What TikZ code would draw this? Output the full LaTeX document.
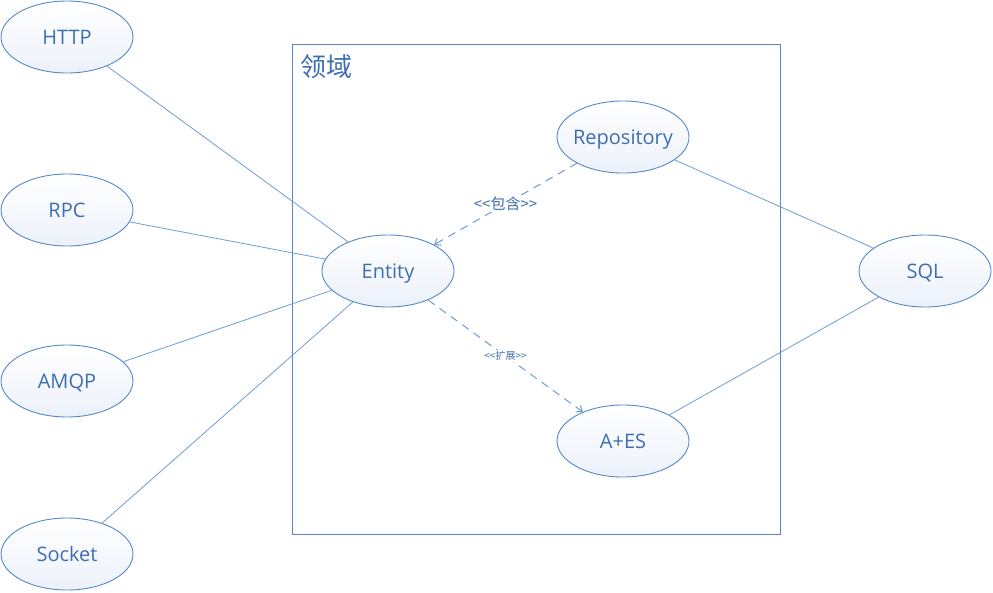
\documentclass[tikz,border=0pt]{standalone}
\usepackage{fontspec}
\setmainfont{Open Sans}
\newfontfamily\cjk{Noto Sans CJK SC}
\usetikzlibrary{shapes.geometric,arrows.meta}
\definecolor{edgeblue}{RGB}{84,136,200}
\definecolor{lineblue}{RGB}{110,156,212}
\definecolor{txtblue}{RGB}{62,110,178}
\definecolor{fillblue}{RGB}{236,241,250}
\tikzset{
  uc/.style={ellipse, draw=edgeblue, line width=0.9pt, top color=white, bottom color=fillblue,
    minimum width=132pt, minimum height=72pt, inner sep=0pt, text=txtblue,
    text height=14pt, text depth=0pt, font=\fontsize{20}{22}\selectfont},
  assoc/.style={draw=lineblue, line width=0.8pt},
  dep/.style={draw=lineblue, line width=1pt, dash pattern=on 8pt off 6pt, -{Straight Barb[length=5pt,width=8pt]}},
  deplabel/.style={fill=white, inner sep=1pt, text=txtblue, font=\cjk\fontsize{15}{17}\selectfont}
}
\begin{document}
\begin{tikzpicture}[x=1pt,y=-1pt]
\useasboundingbox (0,0) rectangle (993,592);
\node[draw=edgeblue, line width=0.9pt, minimum width=488pt, minimum height=490pt, inner sep=0pt, anchor=north west] (domain) at (292,44) {};
\node[anchor=west, text=txtblue, font=\cjk\fontsize{26}{28}\selectfont, inner sep=0pt] (title) at (300,67) {领域};
\node[uc] (http) at (67,37) {HTTP};
\node[uc] (rpc) at (67,210) {RPC};
\node[uc] (amqp) at (67,381) {AMQP};
\node[uc] (socket) at (67,554) {Socket};
\node[uc] (entity) at (388,271) {Entity};
\node[uc] (repo) at (623,137) {\makebox[0pt]{Repository}};
\node[uc] (aes) at (623,441) {A+ES};
\node[uc] (sql) at (925,271) {SQL};
\draw[assoc] (http) -- (entity);
\draw[assoc] (rpc) -- (entity);
\draw[assoc] (amqp) -- (entity);
\draw[assoc] (socket) -- (entity);
\draw[assoc] (repo) -- (sql);
\draw[assoc] (aes) -- (sql);
\draw[dep] (repo) -- node[deplabel] (l1) {<{}<包含>{}>} (entity);
\draw[dep] (entity) -- node[deplabel, font=\cjk\fontsize{10}{12}\selectfont] (l2) {<{}<扩展>{}>} (aes);
\end{tikzpicture}
\end{document}
